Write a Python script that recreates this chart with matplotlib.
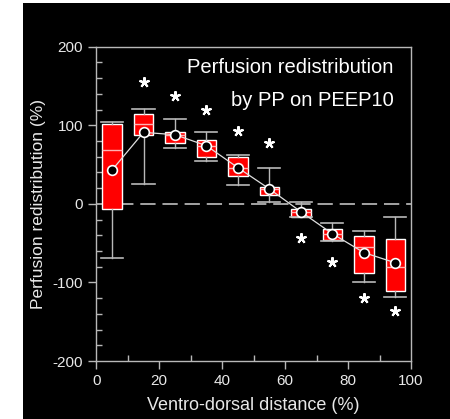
import matplotlib.pyplot as plt
from matplotlib.patches import Rectangle

plt.rcParams['font.family'] = ['Liberation Sans', 'DejaVu Sans']
plt.rcParams['axes.unicode_minus'] = False

# bins along the ventro-dorsal axis (%)
dist = [5, 15, 25, 35, 45, 55, 65, 75, 85, 95]
q1 = [-6, 87, 77, 60, 36, 11, -17, -46, -88, -111]
med = [68, 102, 88, 74, 46, 19, -10, -38, -55, -81]
q3 = [101, 114, 92, 81, 60, 21, -7, -32, -41, -45]
whislo = [-69, 25, 71, 55, 24, 2, -17, -47, -99, -119]
whishi = [104, 121, 108, 91, 62, 46, 2, -25, -35, -17]
mean = [43, 91, 88, 74, 46, 19, -10, -38, -62, -75]
star_y = [None, 155, 137, 120, 93, 78, -43, -74, -120, -136]

fig = plt.figure(figsize=(4.5, 4.19), dpi=100)
fig.patch.set_facecolor('white')
fig.patches.append(Rectangle((23 / 450, 0), 1, 416 / 419, transform=fig.transFigure,
                             facecolor='black', edgecolor='none', zorder=-10))

ax = fig.add_axes([96.3 / 450, 58 / 419, 314.7 / 450, 314.3 / 419])
ax.set_facecolor('black')

grey = '#b8b8b8'
ax.axhline(0, color='#d0d0d0', lw=1.1, ls=(0, (10, 4.5)), zorder=1)

stats = []
for i in range(len(dist)):
    stats.append(dict(q1=q1[i], med=med[i], q3=q3[i], whislo=whislo[i], whishi=whishi[i]))
ax.bxp(stats, positions=dist, widths=6.2, showfliers=False, patch_artist=True,
       manage_ticks=False,
       boxprops=dict(facecolor='#ff0000', edgecolor='white', lw=1),
       medianprops=dict(color='#ffb0b0', lw=1),
       whiskerprops=dict(color=grey, lw=1),
       capprops=dict(color=grey, lw=1.2), capwidths=7, zorder=2)

ax.plot(dist, mean, color='#e0e0e0', lw=0.9, zorder=3)
ax.plot(dist, mean, 'o', ms=7, mfc='black', mec='white', mew=1.2, zorder=4)

sx = [d for d, s in zip(dist, star_y) if s is not None]
sy = [s for s in star_y if s is not None]
ax.plot(sx, sy, ls='none', marker=(5, 2, 0), ms=7.5, mec='white', mew=1.5, zorder=4)

ax.set_xlim(0, 100)
ax.set_ylim(-200, 200)
ax.set_xticks(range(0, 101, 20))
ax.set_xticks(range(10, 100, 20), minor=True)
ax.set_yticks(range(-200, 201, 100))
ax.set_yticks(range(-180, 200, 20), minor=True)
ax.tick_params(which='major', direction='out', length=6, color=grey, labelcolor='#e8e8e8',
               labelsize=11, width=1)
ax.tick_params(which='minor', direction='in', length=4, color=grey, width=1)
for s in ax.spines.values():
    s.set_color(grey)
    s.set_linewidth(1)

ax.set_xlabel('Ventro-dorsal distance (%)', color='#e8e8e8', fontsize=13, labelpad=6)
ax.set_ylabel('Perfusion redistribution (%)', color='#e8e8e8', fontsize=12.5, labelpad=5)

ax.text(0.945, 0.935, 'Perfusion redistribution', transform=ax.transAxes, ha='right',
        va='center', color='white', fontsize=14.5)
ax.text(0.945, 0.83, 'by PP on PEEP10', transform=ax.transAxes, ha='right',
        va='center', color='white', fontsize=14.5)

fig.savefig('out.png', dpi=100, facecolor=fig.get_facecolor())
